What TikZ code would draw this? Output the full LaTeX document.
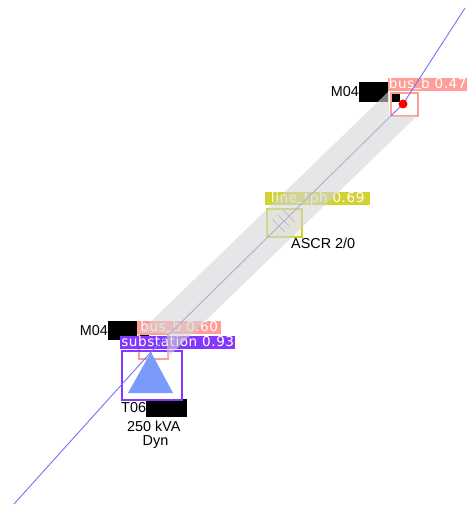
\documentclass[tikz,border=0pt]{standalone}
\usetikzlibrary{calc}
\usepackage{fontspec}
\setmainfont{Liberation Sans}
\newfontfamily\tagfont[LetterSpace=4]{DejaVu Sans}
\newcommand{\usc}{\raisebox{1.4pt}{\_}}
\definecolor{busred}{RGB}{255,157,151}
\definecolor{linegreen}{RGB}{207,210,49}
\definecolor{subviolet}{RGB}{132,56,255}
\definecolor{trafoblue}{RGB}{122,155,250}
\definecolor{wireblue}{RGB}{115,115,245}
\definecolor{bandgray}{RGB}{213,213,213}
\tikzset{
  wire/.style={draw=wireblue, line width=.9pt},
  blackout/.style={fill=black, draw=none, inner sep=0pt, anchor=north west},
  lab/.style={inner sep=0pt, font=\fontsize{14.4}{16}\selectfont},
  detbox/.style={draw=#1, line width=2pt, inner sep=0pt, anchor=north west},
  dettag/.style={fill=#1, text=white, inner sep=0pt, anchor=north west, minimum height=13pt,
    text height=10pt, text depth=3pt, font=\tagfont\fontsize{13.6}{15}\selectfont},
}
\begin{document}
\begin{tikzpicture}[x=1pt, y=-1pt]
  \useasboundingbox (0,0) rectangle (470,505);
  % black patches
  \node[blackout, minimum width=29pt, minimum height=20pt] (b1) at (359,82) {};
  \node[blackout, minimum width=10pt, minimum height=10pt] (b1a) at (390,92) {};
  \node[blackout, minimum width=29pt, minimum height=19pt] (b2) at (108,321) {};
  \node[blackout, minimum width=9pt, minimum height=5pt] (b2a) at (140,333) {};
  \node[blackout, minimum width=41pt, minimum height=18pt] (b3) at (146,399) {};
  % texts
  \node[lab, anchor=east] (m1) at (359,92) {M04};
  \node[lab, anchor=east] (m2) at (108,331) {M04};
  \node[lab, anchor=west] (t1) at (121,408) {T06};
  \node[lab] (t2) at (153.7,426) {250 kVA};
  \node[lab] (t3) at (155.5,442) {Dyn};
  \node[lab, anchor=west] (cond) at (291,243) {ASCR 2/0};
  % detections
  \node[detbox=linegreen, fill=linegreen!12, minimum width=35pt, minimum height=28pt] (box3) at (265.5,207.5) {};
  \node[dettag=linegreen, minimum width=105pt] (tag3) at (265,192) {line\usc tph 0.69};
  \node[detbox=busred, minimum width=29pt, minimum height=25pt] (box2) at (138,333) {};
  \node[dettag=busred, minimum width=84pt] (tag2) at (137,321) {bus\usc b 0.60};
  \node[detbox=subviolet, minimum width=60pt, minimum height=49pt] (box4) at (121,350) {};
  \node[dettag=subviolet, minimum width=115pt] (tag4) at (120,336) {substation 0.93};
  \node[detbox=busred, minimum width=27pt, minimum height=23pt] (box1) at (390,92) {};
  \node[dettag=busred, minimum width=79pt] (tag1) at (388,78) {bus\usc b 0.47};
  % wires
  \coordinate (far) at (465,8);
  \coordinate (end) at (14,504);
  \coordinate (apex) at (151,352);
  \coordinate (busa) at (403,104);
  \draw[wire] (far) -- (busa) -- (apex) -- (end);
  % ticks
  \coordinate (tickc) at (283.5,220.5);
  \foreach \d in {-5,0,5}
    \draw[wireblue, line width=.6pt] ($(tickc)+(\d-6,-\d-6)$) -- ($(tickc)+(\d+6,-\d+6)$);
  % band
  \fill[bandgray, fill opacity=.6] (389,91) -- (389,116) -- (417,116)
    -- (167,358) -- (167,333) -- (139,333) -- cycle;
  % transformer and dot
  \node[circle, fill=red, inner sep=0pt, minimum size=9pt] (dot) at (busa) {};
  \fill[trafoblue] (apex) -- (173,393) -- (128,393) -- cycle;
\end{tikzpicture}
\end{document}
